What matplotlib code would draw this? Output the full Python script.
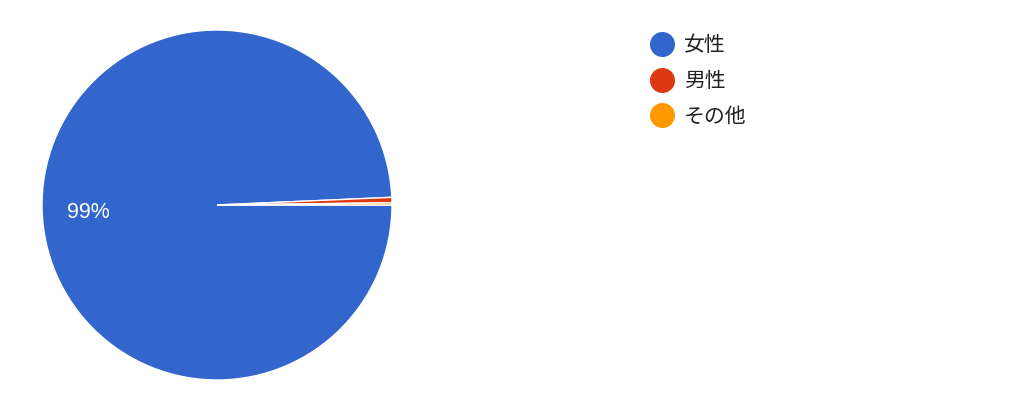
import matplotlib
matplotlib.use('Agg')
import matplotlib.pyplot as plt
from matplotlib.lines import Line2D

plt.rcParams['font.family'] = ['Noto Sans CJK JP', 'DejaVu Sans']

# データ
labels = ['女性', '男性', 'その他']
values = [99.3, 0.5, 0.2]
colors = ['#3366cc', '#dc3912', '#ff9900']

fig = plt.figure(figsize=(10.24, 4.03), dpi=100)

# 円グラフ
ax = fig.add_axes([42 / 1024, 23 / 403, 350 / 1024, 350 / 403])

def pct(p):
    return '%d%%' % round(p) if p > 5 else ''

wedges, texts, autotexts = ax.pie(values, colors=colors, startangle=0, counterclock=False,
                                  autopct=pct, pctdistance=0.735,
                                  wedgeprops=dict(edgecolor='white', linewidth=1))
for t in autotexts:
    t.set_color('white')
    t.set_fontsize(15.5)
    t.set_family(['Liberation Sans', 'DejaVu Sans'])
    x, y = t.get_position()
    t.set_position((x, y - 0.025))
ax.set_xlim(-1, 1)
ax.set_ylim(-1, 1)
ax.set_aspect('equal')

# 凡例
handles = [Line2D([], [], marker='o', linestyle='', markersize=17,
                  markerfacecolor=c, markeredgecolor=c) for c in colors]
leg = fig.legend(handles, labels, loc='upper left', bbox_to_anchor=(643 / 1024, 1 - 26 / 403),
                 frameon=False, fontsize=15, labelspacing=0.65, handlelength=1.0,
                 handletextpad=0.55, borderaxespad=0)
for t in leg.get_texts():
    t.set_color('#222222')

fig.savefig('out.png', dpi=100)
